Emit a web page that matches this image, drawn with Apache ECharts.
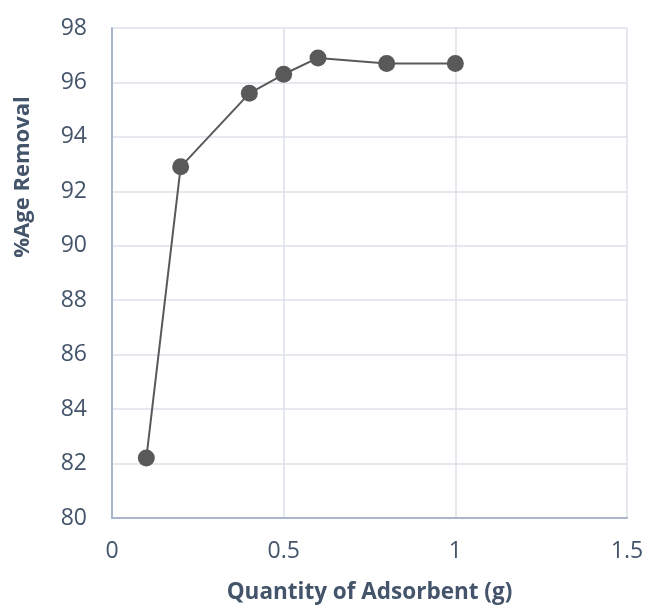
<!DOCTYPE html>
<html><head><meta charset="utf-8">
<script src="https://cdn.jsdelivr.net/npm/echarts@6/dist/echarts.min.js"></script>
<style>html,body{margin:0;padding:0;background:#fff;}#c{width:645px;height:606px;}</style>
</head><body><div id="c"></div>
<script>
const xValues = [0.1, 0.2, 0.4, 0.5, 0.6, 0.8, 1.0];
const yValues = [82.2, 92.9, 95.6, 96.3, 96.9, 96.7, 96.7];
const xTitle = 'Quantity of Adsorbent (g)';
const yTitle = '%Age Removal';

const chart = echarts.init(document.getElementById('c'), null, {renderer: 'canvas'});
const font = '"Open Sans", sans-serif';
const labelColor = '#44546a';
chart.setOption({
  animation: false,
  grid: {left: 112, right: 18, top: 28, bottom: 88, containLabel: false, outerBoundsMode: 'none'},
  graphic: [{
    type: 'text', x: 23, y: 177, rotation: Math.PI / 2,
    style: {text: yTitle, font: 'bold 22px "Open Sans", sans-serif', fill: labelColor,
            align: 'center', verticalAlign: 'middle'}
  }],
  xAxis: {
    type: 'value', min: 0, max: 1.5, interval: 0.5,
    name: xTitle, nameLocation: 'middle', nameGap: 63,
    nameTextStyle: {fontFamily: font, fontSize: 22.5, fontWeight: 'bold', color: labelColor},
    axisLine: {show: true, lineStyle: {color: '#a9b5cb', width: 2}},
    axisTick: {show: false},
    axisLabel: {fontFamily: font, fontSize: 23, color: labelColor, margin: 22},
    splitLine: {show: true, lineStyle: {color: '#dde2ea', width: 1.5}}
  },
  yAxis: {
    type: 'value', min: 80, max: 98, interval: 2,
    axisLine: {show: true, lineStyle: {color: '#a9b5cb', width: 2}},
    axisTick: {show: false},
    axisLabel: {fontFamily: font, fontSize: 23, color: labelColor, margin: 25},
    splitLine: {show: true, lineStyle: {color: '#dde2ea', width: 1.5}}
  },
  series: [{
    type: 'line',
    data: xValues.map((x, i) => [x, yValues[i]]),
    symbol: 'circle', symbolSize: 17,
    itemStyle: {color: '#595959'},
    lineStyle: {color: '#595959', width: 2}
  }]
});
</script></body></html>
